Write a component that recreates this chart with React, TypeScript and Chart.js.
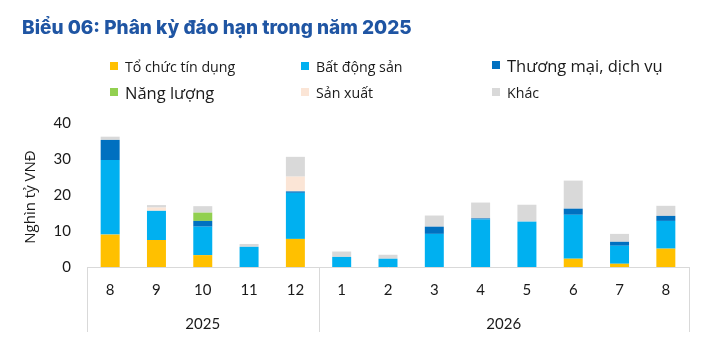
import React, { useEffect, useRef } from "react";
import { Chart, registerables } from "chart.js";

Chart.register(...registerables);

const categories = ["8", "9", "10", "11", "12", "1", "2", "3", "4", "5", "6", "7", "8"];
const years = ["2025", "2026"];
const yearCounts = [5, 8];

const toChucTinDung = [9, 7.5, 3.3, 0, 7.8, 0, 0, 0, 0, 0, 2.3, 0.9, 5.1];
const batDongSan = [20.7, 8.1, 7.9, 5.6, 12.8, 2.8, 2.3, 9.2, 13.2, 12.6, 12.2, 5.0, 7.7];
const thuongMaiDichVu = [5.6, 0, 1.6, 0, 0.4, 0, 0, 2.0, 0.3, 0, 1.7, 1.1, 1.4];
const nangLuong = [0, 0, 2.3, 0, 0, 0, 0, 0, 0, 0, 0, 0, 0];
const sanXuat = [0, 0.9, 0, 0, 4.1, 0, 0, 0, 0, 0, 0, 0, 0];
const khac = [0.9, 0.7, 1.8, 0.8, 5.5, 1.5, 1.1, 3.1, 4.4, 4.7, 7.8, 2.2, 2.8];

const yTicks = [0, 10, 20, 30, 40];

const seriesNames = ["Tổ chức tín dụng", "Bất động sản", "Thương mại, dịch vụ", "Năng lượng", "Sản xuất", "Khác"];
const seriesColors = ["#FFC000", "#00B0F0", "#0070C0", "#92D050", "#FBE5D6", "#D9D9D9"];
const seriesData = [toChucTinDung, batDongSan, thuongMaiDichVu, nangLuong, sanXuat, khac];

const legendPos = [
  { x: 110, y: 66, size: 14.2 },
  { x: 301, y: 66, size: 14.2 },
  { x: 492, y: 65, size: 16.5 },
  { x: 110, y: 92, size: 16.5 },
  { x: 301, y: 92, size: 14.2 },
  { x: 492, y: 92, size: 14.2 },
];

const groupPlugin = {
  id: "groups",
  afterDraw(chart: any) {
    const ctx = chart.ctx;
    const xs = chart.scales.x;
    const ca = chart.chartArea;
    const n = categories.length;
    const cw = (xs.right - xs.left) / n;
    const bottom = 332;
    ctx.save();
    ctx.strokeStyle = "#D9D9D9";
    ctx.lineWidth = 1;
    let idx = 0;
    const edges: number[] = [0];
    yearCounts.forEach((c) => {
      idx += c;
      edges.push(idx);
    });
    edges.forEach((e) => {
      const px = Math.round(xs.left + e * cw) + 0.5;
      ctx.beginPath();
      ctx.moveTo(px, ca.bottom);
      ctx.lineTo(px, bottom);
      ctx.stroke();
    });
    ctx.fillStyle = "#1a1a1a";
    ctx.font = "15px Lato";
    ctx.textAlign = "center";
    ctx.textBaseline = "middle";
    years.forEach((yr, i) => {
      const cx = xs.left + ((edges[i] + edges[i + 1]) / 2) * cw;
      ctx.fillText(yr, cx, 324);
    });
    // y axis title
    ctx.translate(31, 197);
    ctx.rotate(-Math.PI / 2);
    ctx.font = "15px 'Open Sans'";
    ctx.fillText("Nghìn tỷ VNĐ", 0, 0);
    ctx.restore();
  },
};

export default function App() {
  const ref = useRef<HTMLCanvasElement>(null);
  useEffect(() => {
    if (!ref.current) return;
    const chart = new Chart(ref.current, {
      type: "bar",
      data: {
        labels: categories,
        datasets: seriesNames.map((name, i) => ({
          label: name,
          data: seriesData[i],
          backgroundColor: seriesColors[i],
          borderWidth: 0,
          barPercentage: 0.41,
          categoryPercentage: 1,
        })),
      },
      options: {
        responsive: false,
        animation: false,
        devicePixelRatio: 1,
        layout: { padding: { left: 0, right: 24, top: 123, bottom: 0 } },
        plugins: { legend: { display: false }, title: { display: false }, tooltip: { enabled: false } },
        scales: {
          x: {
            stacked: true,
            grid: { display: false, drawTicks: false },
            border: { display: true, color: "#D9D9D9", width: 1 },
            ticks: { color: "#1a1a1a", font: { family: "Lato", size: 15 }, padding: 14, maxRotation: 0 },
            afterFit: (s: any) => {
              s.height = 85;
            },
          },
          y: {
            stacked: true,
            min: 0,
            max: 40,
            afterBuildTicks: (s: any) => {
              s.ticks = yTicks.map((v) => ({ value: v }));
            },
            grid: { display: false, drawTicks: false },
            border: { display: false },
            ticks: { color: "#1a1a1a", font: { family: "Lato", size: 15 }, padding: 16 },
            afterFit: (s: any) => {
              s.width = 87;
            },
          },
        },
      },
      plugins: [groupPlugin],
    });
    return () => chart.destroy();
  }, []);

  return (
    <div style={{ position: "absolute", left: 0, top: 0, width: 713, height: 352, background: "#fff", overflow: "hidden" }}>
      <canvas ref={ref} width={713} height={352} style={{ position: "absolute", left: 0, top: 0 }} />
      <div
        style={{
          position: "absolute",
          left: 22,
          top: 14,
          fontFamily: "Inter",
          fontWeight: 800,
          fontSize: 19,
          color: "#1F55A3",
          whiteSpace: "nowrap",
          lineHeight: "28px",
        }}
      >
        Biểu 06: Phân kỳ đáo hạn trong năm 2025
      </div>
      {seriesNames.map((name, i) => (
        <div
          key={name}
          style={{
            position: "absolute",
            left: legendPos[i].x,
            top: legendPos[i].y - 10,
            height: 20,
            display: "flex",
            alignItems: "center",
            whiteSpace: "nowrap",
            fontFamily: "'Open Sans'",
            fontSize: legendPos[i].size,
            color: "#1a1a1a",
          }}
        >
          <span style={{ display: "inline-block", width: 8, height: 8, background: seriesColors[i], marginRight: 7 }} />
          <span>{name}</span>
        </div>
      ))}
    </div>
  );
}
